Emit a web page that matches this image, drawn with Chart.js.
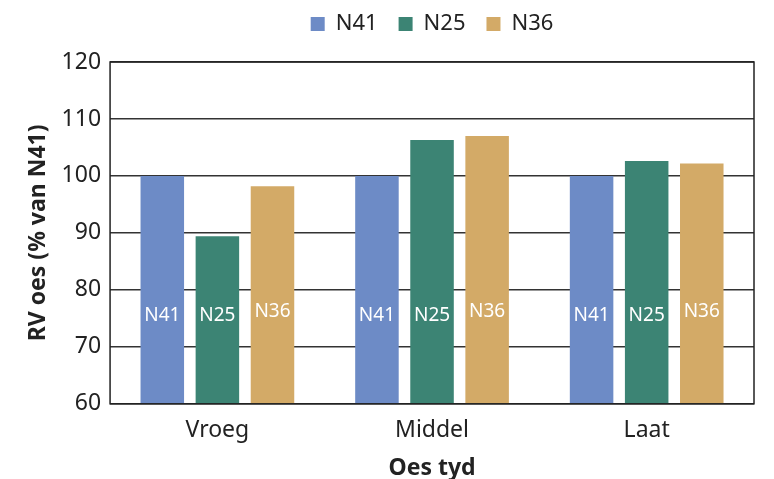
<!DOCTYPE html>
<html>
<head>
<meta charset="utf-8">
<script src="https://cdn.jsdelivr.net/npm/chart.js@4"></script>
<style>
  html, body { margin: 0; padding: 0; background: #fff; }
  #wrap { width: 774px; height: 479px; }
</style>
</head>
<body>
<div id="wrap"><canvas id="c" width="774" height="479"></canvas></div>
<script>
// Harvest timing categories and relative yield per cultivar (% of N41)
const categories = ['Vroeg', 'Middel', 'Laat'];
const seriesNames = ['N41', 'N25', 'N36'];
const n41 = [100, 100, 100];
const n25 = [89.4, 106.3, 102.6];
const n36 = [98.2, 107.0, 102.2];
const yTicks = [60, 70, 80, 90, 100, 110, 120];

const colors = ['#6d8bc6', '#3c8474', '#d3aa67'];
const FONT = '"Noto Sans", "Open Sans", sans-serif';

// Writes the cultivar name inside each bar, low down in the column
const barNames = {
  id: 'barNames',
  afterDatasetsDraw(chart, args, opts) {
    const ctx = chart.ctx;
    const y = chart.scales.y;
    ctx.save();
    ctx.fillStyle = '#ffffff';
    ctx.font = '19px ' + FONT;
    ctx.textAlign = 'center';
    ctx.textBaseline = 'middle';
    chart.data.datasets.forEach((ds, di) => {
      const meta = chart.getDatasetMeta(di);
      meta.data.forEach((bar) => {
        ctx.fillText(ds.label, bar.x, y.getPixelForValue(opts.levels[di]));
      });
    });
    ctx.restore();
  }
};

// Closed frame around the plotting area
const frame = {
  id: 'frame',
  afterDatasetsDraw(chart) {
    const a = chart.chartArea;
    const ctx = chart.ctx;
    ctx.save();
    ctx.strokeStyle = '#222';
    ctx.lineWidth = 1.5;
    ctx.strokeRect(a.left, a.top, a.right - a.left, a.bottom - a.top);
    ctx.restore();
  }
};

// Extra space below the legend row, and the row centred over the plot area
const legendGap = {
  id: 'legendGap',
  beforeInit(chart) {
    const lg = chart.legend;
    if (!lg) return;
    const fit = lg.fit;
    lg.fit = function () {
      fit.call(this);
      this.height += 17;
    };
  },
  afterLayout(chart) {
    const lg = chart.legend;
    if (!lg) return;
    lg.left = chart.chartArea.left;
    lg.right = chart.chartArea.right;
    lg.width = lg.right - lg.left;
  }
};

new Chart(document.getElementById('c'), {
  type: 'bar',
  data: {
    labels: categories,
    datasets: [
      { label: seriesNames[0], data: n41, backgroundColor: colors[0] },
      { label: seriesNames[1], data: n25, backgroundColor: colors[1] },
      { label: seriesNames[2], data: n36, backgroundColor: colors[2] }
    ]
  },
  options: {
    responsive: false,
    animation: false,
    layout: { padding: { left: 25, right: 20, top: -8, bottom: 0 } },
    datasets: { bar: { categoryPercentage: 0.77, barPercentage: 0.79 } },
    plugins: {
      legend: {
        position: 'top',
        labels: {
          font: { family: FONT, size: 22 },
          color: '#222',
          boxWidth: 14,
          boxHeight: 14,
          padding: 21
        }
      },
      tooltip: { enabled: false },
      barNames: { levels: [75.5, 75.5, 76.2] }
    },
    scales: {
      x: {
        grid: { display: false },
        border: { display: false },
        ticks: { font: { family: FONT, size: 23 }, color: '#222', padding: 5 },
        title: {
          display: true,
          text: 'Oes tyd',
          font: { family: FONT, size: 23, weight: 'bold' },
          color: '#222',
          padding: { top: 5, bottom: -3 }
        }
      },
      y: {
        min: 60,
        max: 120,
        afterBuildTicks(scale) { scale.ticks = yTicks.map(v => ({ value: v })); },
        grid: { color: '#333', lineWidth: 1.5, drawTicks: false },
        border: { display: false },
        ticks: { font: { family: FONT, size: 23 }, color: '#222', padding: 9 },
        title: {
          display: true,
          text: 'RV oes (% van N41)',
          font: { family: FONT, size: 23, weight: 'bold' },
          color: '#222',
          padding: { top: 0, bottom: 0 }
        }
      }
    }
  },
  plugins: [barNames, frame, legendGap]
});
</script>
</body>
</html>
